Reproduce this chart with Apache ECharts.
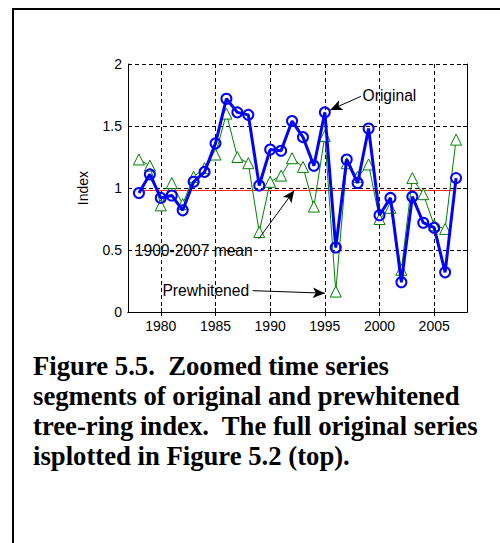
<!DOCTYPE html>
<html lang="en">
  <head>
    <meta charset="UTF-8" />
    <title>Figure 5.5</title>
    <style>
      html, body { margin: 0; padding: 0; background: #fff; }
      body { width: 500px; height: 543px; position: relative; overflow: hidden; }
      #frame {
        position: absolute; left: 12px; top: 8px; width: 488px; height: 535px;
        border-top: 2px solid #000; border-left: 2px solid #000;
      }
      #chart { position: absolute; left: 0; top: 0; width: 500px; height: 543px; }
      #caption {
        position: absolute; left: 33px; top: 351px; width: 465px;
        font-family: "Liberation Serif", "Times New Roman", serif;
        font-weight: bold; font-size: 26.7px; line-height: 30px; color: #000;
      }
    </style>
  </head>
  <body>
    <div id="frame"></div>
    <div id="chart"></div>
    <div id="caption">
      Figure 5.5.&nbsp; Zoomed time series<br />
      segments of original and prewhitened<br />
      tree-ring index.&nbsp; The full original series<br />
      isplotted in Figure 5.2 (top).
    </div>

    <script src="https://cdn.jsdelivr.net/npm/echarts@6.0.0/dist/echarts.min.js"></script>
    <script>
      const years = [
        1978, 1979, 1980, 1981, 1982, 1983, 1984, 1985, 1986, 1987,
        1988, 1989, 1990, 1991, 1992, 1993, 1994, 1995, 1996, 1997,
        1998, 1999, 2000, 2001, 2002, 2003, 2004, 2005, 2006, 2007
      ];
      const original = [
        0.96, 1.11, 0.92, 0.94, 0.82, 1.05, 1.13, 1.36, 1.72, 1.61,
        1.59, 1.02, 1.31, 1.30, 1.54, 1.41, 1.18, 1.61, 0.52, 1.23,
        1.04, 1.48, 0.78, 0.92, 0.24, 0.93, 0.72, 0.68, 0.32, 1.08
      ];
      const prewhitened = [
        1.23, 1.18, 0.86, 1.04, 0.87, 1.09, 1.16, 1.27, 1.60, 1.25,
        1.20, 0.645, 1.05, 1.10, 1.24, 1.17, 0.85, 1.42, 0.165, 1.20,
        1.09, 1.19, 0.75, 0.84, 0.34, 1.08, 0.95, 0.70, 0.67, 1.39
      ];
      const meanYears = [1978, 2007];
      const meanValue = 0.98;
      const yearTicks = [1980, 1985, 1990, 1995, 2000, 2005];

      // annotation texts: anchor (left, middle) and arrow from -> to, in data units
      const noteTexts = ["Original", "1900-2007 mean", "Prewhitened"];
      const noteAnchors = [[1998.45, 1.748], [1977.62, 0.497], [1980.15, 0.174]];
      const arrowFrom = [[1998.3, 1.739], [1988.95, 0.59], [1988.4, 0.172]];
      const arrowTo = [[1995.5, 1.63], [1992.2, 0.98], [1995.0, 0.152]];

      const chart = echarts.init(document.querySelector("#chart"), null, { renderer: "svg" });

      const axisLine = { show: true, lineStyle: { color: "#000", width: 1 } };
      const innerTick = { show: true, inside: true, length: 4, lineStyle: { color: "#000" } };
      const labelFont = { color: "#000", fontFamily: "Liberation Sans, Arial, sans-serif", fontSize: 14 };
      const gridLine = { show: true, lineStyle: { color: "#000", type: [4, 3], width: 1 } };

      const option = {
        animation: false,
        grid: { left: 128, top: 64, right: 33, bottom: 231 },
        xAxis: [
          {
            type: "value", min: 1977, max: 2008, position: "bottom",
            axisLine: axisLine,
            axisTick: Object.assign({ customValues: yearTicks }, innerTick),
            axisLabel: Object.assign({ customValues: yearTicks, margin: 7, formatter: (v) => String(v) }, labelFont),
            splitLine: gridLine
          },
          {
            type: "value", min: 1977, max: 2008, position: "top",
            axisLine: axisLine,
            axisTick: Object.assign({ customValues: yearTicks }, innerTick),
            axisLabel: { show: false },
            splitLine: { show: false }
          }
        ],
        yAxis: [
          {
            type: "value", min: 0, max: 2, interval: 0.5, position: "left",
            name: "Index", nameLocation: "middle", nameGap: 38,
            nameTextStyle: labelFont,
            axisLine: axisLine,
            axisTick: innerTick,
            axisLabel: Object.assign({ margin: 6 }, labelFont),
            splitLine: gridLine
          },
          {
            type: "value", min: 0, max: 2, interval: 0.5, position: "right",
            axisLine: axisLine,
            axisTick: innerTick,
            axisLabel: { show: false },
            splitLine: { show: false }
          }
        ],
        series: [
          {
            name: "mean", type: "line", z: 2,
            data: meanYears.map((y) => [y, meanValue]),
            symbol: "none",
            lineStyle: { color: "#ff2020", width: 1 },
            silent: true
          },
          {
            name: "Prewhitened", type: "line", z: 3,
            data: years.map((y, i) => [y, prewhitened[i]]),
            symbol: "triangle", symbolSize: 11,
            itemStyle: { color: "#fff", borderColor: "#008000", borderWidth: 1 },
            lineStyle: { color: "#008000", width: 1 },
            silent: true
          },
          {
            name: "Original", type: "line", z: 4,
            data: years.map((y, i) => [y, original[i]]),
            symbol: "circle", symbolSize: 10,
            itemStyle: { color: "rgba(255,255,255,0)", borderColor: "#0000ff", borderWidth: 2 },
            lineStyle: { color: "#0000ff", width: 3 },
            silent: true
          },
          {
            name: "notes", type: "line", z: 5, data: [], silent: true,
            markLine: {
              silent: true, animation: false,
              symbol: ["none", "arrow"], symbolSize: [8, 12],
              label: { show: false },
              lineStyle: { color: "#000", type: "solid", width: 1 },
              itemStyle: { color: "#000" },
              data: arrowFrom.map((p, i) => [{ coord: p }, { coord: arrowTo[i] }])
            },
            markPoint: {
              silent: true, animation: false, symbol: "circle", symbolSize: 0,
              label: Object.assign({
                show: true, position: "right", distance: 0,
                formatter: (p) => p.name
              }, labelFont, { fontSize: 15.6 }),
              data: noteTexts.map((t, i) => ({ name: t, coord: noteAnchors[i] }))
            }
          }
        ]
      };
      chart.setOption(option);
    </script>
  </body>
</html>
